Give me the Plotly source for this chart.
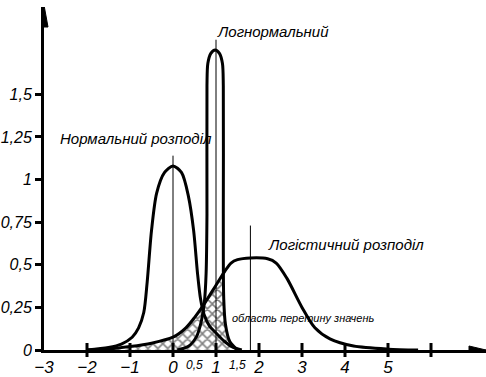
import plotly.graph_objects as go

# Normal distribution curve
normal_x = [-2.0, -1.5, -1.2, -0.95, -0.8, -0.68, -0.6, -0.5, -0.38, -0.2, 0.0,
            0.2, 0.36, 0.48, 0.57, 0.64, 0.72, 0.85, 1.0, 1.2, 1.4, 1.6]
normal_y = [0.0, 0.015, 0.035, 0.075, 0.13, 0.22, 0.40, 0.70, 0.92, 1.04, 1.08,
            1.04, 0.90, 0.70, 0.45, 0.30, 0.21, 0.14, 0.10, 0.05, 0.015, 0.0]

# Lognormal distribution curve
lognorm_x = [0.1, 0.35, 0.55, 0.66, 0.73, 0.77, 0.79, 0.79, 0.81, 0.88, 0.98,
             1.08, 1.15, 1.17, 1.17, 1.18, 1.22, 1.32, 1.5]
lognorm_y = [0.0, 0.02, 0.08, 0.17, 0.28, 0.45, 0.8, 1.55, 1.68, 1.74, 1.76,
             1.74, 1.68, 1.55, 0.8, 0.3, 0.15, 0.05, 0.0]

# Logistic distribution curve
logis_x = [-2.0, -1.5, -1.0, -0.5, 0.0, 0.3, 0.5, 0.7, 1.0, 1.2, 1.35, 1.5, 1.8,
           2.2, 2.4, 2.65, 3.0, 3.3, 3.65, 4.2, 5.0, 5.7]
logis_y = [0.0, 0.006, 0.02, 0.04, 0.075, 0.13, 0.19, 0.26, 0.38, 0.46, 0.51, 0.53,
           0.54, 0.535, 0.51, 0.42, 0.25, 0.13, 0.065, 0.023, 0.005, 0.0]

# Centre guide lines (position, height)
guide_x = [0.0, 1.0, 1.8]
guide_top = [1.14, 1.82, 0.73]

# Axis ticks and labels
x_ticks = [-3, -2, -1, 0, 1, 2, 3, 4, 5]
x_labels = ["\u22123", "\u22122", "\u22121", "0", "1", "2", "3", "4", "5"]
x_extra_ticks = [6]
x_small = [0.5, 1.5]
x_small_labels = ["0,5", "1,5"]
y_ticks = [0, 0.25, 0.5, 0.75, 1, 1.25, 1.5]
y_labels = ["0", "0,25", "0,5", "0,75", "1", "1,25", "1,5"]

FONT = "Liberation Sans, Arial, sans-serif"
INK = "black"

fig = go.Figure()

# Hatched intersection area: under the logistic curve up to the lognormal right flank
hatch_x = [x for x in logis_x if -1.5 <= x <= 1.0] + [1.1, 1.17]
hatch_y = [y for x, y in zip(logis_x, logis_y) if -1.5 <= x <= 1.0] + [0.425, 0.445]
for x, y in zip(lognorm_x, lognorm_y):
    if x >= 1.17 and y <= 0.44:
        hatch_x.append(x)
        hatch_y.append(y)
fig.add_trace(go.Scatter(
    x=hatch_x, y=hatch_y, mode="lines", fill="tozeroy",
    line=dict(width=0, shape="spline", smoothing=0.8, color=INK),
    fillcolor="rgba(0,0,0,0)",
    fillpattern=dict(shape="x", size=7, solidity=0.4, fgcolor=INK, bgcolor="white"),
    hoverinfo="skip", showlegend=False,
))

# Thin centre lines
gx, gy = [], []
for x, t in zip(guide_x, guide_top):
    gx += [x, x, None]
    gy += [0, t, None]
fig.add_trace(go.Scatter(x=gx, y=gy, mode="lines", line=dict(color=INK, width=1),
                         showlegend=False, hoverinfo="skip"))

curve = dict(color=INK, width=3, shape="spline", smoothing=0.8)
for xs, ys in [(normal_x, normal_y), (lognorm_x, lognorm_y), (logis_x, logis_y)]:
    fig.add_trace(go.Scatter(x=xs, y=ys, mode="lines", line=curve,
                             showlegend=False, hoverinfo="skip"))

# Crossing tick marks on the x axis
fig.add_trace(go.Scatter(
    x=x_ticks[1:] + x_extra_ticks, y=[0] * (len(x_ticks) - 1 + len(x_extra_ticks)),
    mode="markers", cliponaxis=False,
    marker=dict(symbol="line-ns", size=10, line=dict(color=INK, width=3)),
    showlegend=False, hoverinfo="skip",
))

fig.update_layout(
    width=486, height=377,
    margin=dict(l=44, r=0, t=7, b=24),
    paper_bgcolor="white", plot_bgcolor="white",
    font=dict(family=FONT, color=INK, size=15, style="italic"),
    xaxis=dict(
        range=[-3, 7.279], showgrid=False, zeroline=False,
        showline=True, linecolor=INK, linewidth=3,
        tickvals=x_ticks, ticktext=x_labels, ticks="",
        tickfont=dict(family=FONT, size=17, color=INK, style="italic"),
    ),
    yaxis=dict(
        range=[0, 2.012], showgrid=False, zeroline=False,
        showline=True, linecolor=INK, linewidth=3,
        tickvals=y_ticks, ticktext=y_labels, ticks="outside",
        ticklen=6, tickwidth=3, tickcolor=INK,
        tickfont=dict(family=FONT, size=16, color=INK, style="italic"),
    ),
)

# Arrow heads on the axes
fig.add_shape(type="path", xref="x", yref="y", xsizemode="pixel", ysizemode="pixel",
              xanchor=-3, yanchor=2.012, path="M 0 2 L -4 -20 L 4 -20 Z",
              fillcolor=INK, line=dict(color=INK, width=1))
fig.add_shape(type="path", xref="x", yref="y", xsizemode="pixel", ysizemode="pixel",
              xanchor=7.279, yanchor=0, path="M 0 0 L -17 4 L -17 -4 Z",
              fillcolor=INK, line=dict(color=INK, width=1))

# Small sub-labels on the x axis
for xv, txt in zip(x_small, x_small_labels):
    fig.add_annotation(x=xv, y=0, text=txt, showarrow=False, yshift=-15,
                       font=dict(family=FONT, size=12, color=INK, style="italic"))

labels = [
    (0.98, 1.87, "Логнормальний", 15),
    (-2.67, 1.24, "Нормальний розподіл", 15),
    (2.16, 0.62, "Логістичний розподіл", 15),
    (1.33, 0.19, "область перетину значень", 11),
]
for xv, yv, txt, sz in labels:
    fig.add_annotation(x=xv, y=yv, text=txt, showarrow=False, xanchor="left",
                       font=dict(family=FONT, size=sz, color=INK, style="italic"),
                       bgcolor="rgba(0,0,0,0)")

fig.write_html("out.html")
